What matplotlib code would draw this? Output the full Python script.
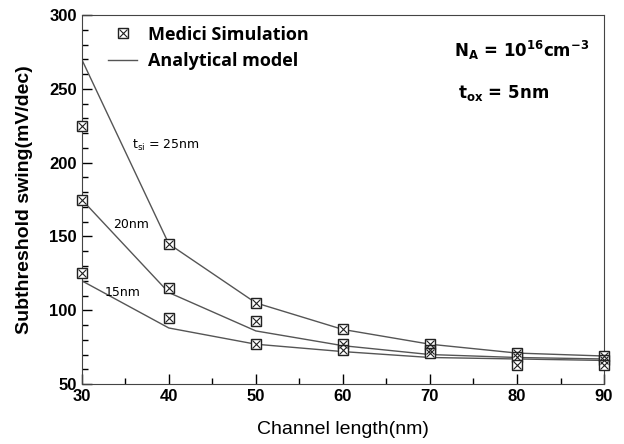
import matplotlib.pyplot as plt
from matplotlib.lines import Line2D

# channel length (nm)
length = [30, 40, 50, 60, 70, 80, 90]

# analytical model curves
model_25 = [270, 145, 105, 87, 77, 71, 69]
model_20 = [175, 112, 86, 76, 70, 68, 67]
model_15 = [120, 88, 77, 72, 68, 67, 66]

# Medici simulation points
sim_25 = [225, 145, 105, 87, 77, 71, 69]
sim_20 = [175, 115, 93, 77, 73, 68, 66]
sim_15 = [125, 95, 77, 73, 71, 63, 63]

fig = plt.figure(figsize=(6.24, 4.44), dpi=100)
ax = fig.add_axes([0.131, 0.135, 0.837, 0.831])

lc = "#555555"
mc = "#222222"
for y in [model_25, model_20, model_15]:
    ax.plot(length, y, color=lc, lw=1.0, zorder=2)

for y in [sim_25, sim_20, sim_15]:
    ax.plot(length, y, ls="none", marker="s", ms=7.5, mfc="white", mec=mc, mew=1.0, zorder=3, clip_on=False)
    ax.plot(length, y, ls="none", marker="x", ms=5.5, mec=mc, mew=0.8, zorder=4, clip_on=False)

ax.set_xlim(30, 90)
ax.set_ylim(50, 300)
ax.set_xticks(range(30, 91, 10))
ax.set_xticks(range(35, 90, 10), minor=True)
ax.set_yticks(range(50, 301, 50))
ax.set_yticks(range(60, 300, 10), minor=True)
ax.tick_params(which="both", direction="in", top=False, right=False)
ax.tick_params(which="major", length=7, width=1)
ax.tick_params(which="minor", length=4, width=1)
for lab in ax.get_xticklabels() + ax.get_yticklabels():
    lab.set_fontweight("bold")
    lab.set_fontfamily("Liberation Sans")
    lab.set_fontsize(12)
for s in ax.spines.values():
    s.set_color("#444444")

ax.set_xlabel("Channel length(nm)", fontsize=14, fontfamily="Liberation Sans", labelpad=12)
ax.set_ylabel("Subthreshold swing(mV/dec)", fontsize=14, fontweight="bold",
              fontfamily="Liberation Sans", labelpad=12)

# legend
h_sim = (Line2D([], [], ls="none", marker="s", ms=7.5, mfc="white", mec=mc, mew=1.0),
         Line2D([], [], ls="none", marker="x", ms=5.5, mec=mc, mew=0.8))
h_mod = Line2D([], [], color=lc, lw=1.0)
ax.legend([h_sim, h_mod], ["Medici Simulation", "Analytical model"], loc="upper left",
          bbox_to_anchor=(0.02, 1.015), frameon=False,
          prop={"family": "Open Sans", "weight": "bold", "size": 13},
          handlelength=1.6, handletextpad=0.6, labelspacing=0.45)

ax.text(0.712, 0.905, r"$\mathbf{N_A}$ = 10$^{\mathbf{16}}$cm$^{\mathbf{-3}}$", transform=ax.transAxes,
        fontsize=12, fontweight="bold", va="center")
ax.text(0.72, 0.79, r"$\mathbf{t_{ox}}$ = 5nm", transform=ax.transAxes,
        fontsize=12, fontweight="bold", va="center")

ax.text(35.8, 212, r"t$_{\mathrm{si}}$ = 25nm", fontsize=9, va="center")
ax.text(33.6, 158, "20nm", fontsize=9, va="center")
ax.text(32.6, 112, "15nm", fontsize=9, va="center")

fig.savefig("out.png")
